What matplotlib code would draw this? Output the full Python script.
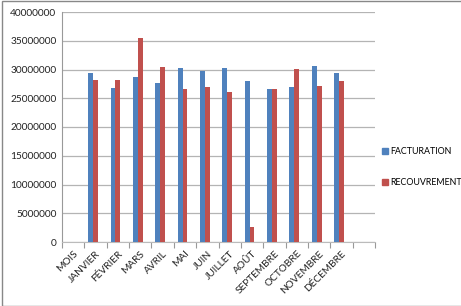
import matplotlib
matplotlib.use("Agg")
import matplotlib.pyplot as plt
from matplotlib.patches import Patch, Rectangle
import numpy as np

categories = ["MOIS", "JANVIER", "FÉVRIER", "MARS", "AVRIL", "MAI", "JUIN",
              "JUILLET", "AOÛT", "SEPTEMBRE", "OCTOBRE", "NOVEMBRE", "DÉCEMBRE", ""]
facturation = [np.nan, 29.4e6, 26.8e6, 28.7e6, 27.6e6, 30.3e6, 29.7e6,
               30.3e6, 28.0e6, 26.6e6, 27.0e6, 30.6e6, 29.4e6, np.nan]
recouvrement = [np.nan, 28.2e6, 28.2e6, 35.5e6, 30.4e6, 26.6e6, 27.0e6,
                26.1e6, 2.6e6, 26.6e6, 30.1e6, 27.1e6, 28.0e6, np.nan]
yticks = list(range(0, 40000001, 5000000))

plt.rcParams['font.family'] = ['Lato', 'DejaVu Sans']
fs = 7.3

fig = plt.figure(figsize=(4.61, 3.06), dpi=100)
ax = fig.add_axes([62/461, 1-242/306, (375-62)/461, 230/306])

x = np.arange(len(categories))
w = 0.22
ax.bar(x - w, facturation, width=w, color='#4F81BD', label='FACTURATION', zorder=3)
ax.bar(x, recouvrement, width=w, color='#C0504D', label='RECOUVREMENT', zorder=3)

ax.set_xlim(-0.5, len(categories) - 0.5)
ax.set_ylim(0, 40000000)
ax.set_yticks(yticks)
ax.set_yticklabels([str(v) for v in yticks], fontsize=fs, color='#222222')
ax.yaxis.grid(True, color='#b4b4b4', linewidth=0.9, zorder=0)
ax.tick_params(axis='y', length=0, pad=4)

ax.set_xticks(x)
ax.set_xticklabels(categories, rotation=45, ha='right', rotation_mode='anchor',
                   fontsize=fs, color='#222222')
ax.set_xticks(np.arange(-0.5, len(categories), 1), minor=True)
ax.tick_params(axis='x', which='major', length=0, pad=5)
ax.tick_params(axis='x', which='minor', length=4, color='#999999', width=0.8)

for s in ['top', 'right']:
    ax.spines[s].set_visible(False)
ax.spines['left'].set_color('#999999')
ax.spines['bottom'].set_color('#bbbbbb')

handles = [Patch(color='#4F81BD'), Patch(color='#C0504D')]
fig.legend(handles, ['FACTURATION', 'RECOUVREMENT'], loc='center left',
           bbox_to_anchor=(376/461, 1-167/306), frameon=False, fontsize=6.4,
           handlelength=0.65, handleheight=0.65, handletextpad=0.3, labelspacing=2.4,
           borderpad=0.2)

fig.patches.append(Rectangle((2/461, 0), 1, 1 - 0.5/306, transform=fig.transFigure,
                             fill=False, edgecolor='#888888', linewidth=1))

fig.savefig("out.png", dpi=100)
